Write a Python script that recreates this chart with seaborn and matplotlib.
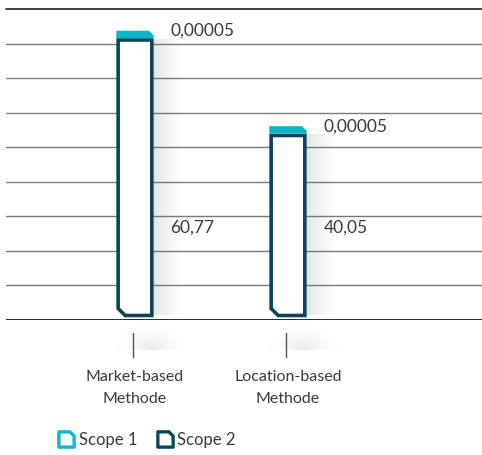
import numpy as np
import pandas as pd
import matplotlib
matplotlib.use("Agg")
import matplotlib.pyplot as plt
import matplotlib.transforms as mtransforms
from matplotlib.patches import Polygon
from matplotlib.lines import Line2D
from matplotlib.path import Path
import seaborn as sns

# ---- data -------------------------------------------------------------
categories = ["Market-based\nMethode", "Location-based\nMethode"]
scope2 = [60.77, 40.05]
scope1 = [0.00005, 0.00005]
scope2_labels = ["60,77", "40,05"]
scope1_labels = ["0,00005", "0,00005"]
grid_step = 7.5
y_max = 67.5

CYAN = "#0bb6ca"
DARK = "#0b4557"
TEXT = "#3a3a3a"

sns.set_theme(style="white")
plt.rcParams["font.family"] = ["Lato", "DejaVu Sans"]

W, H = 482, 455
fig = plt.figure(figsize=(W / 100, H / 100), dpi=100)
ax = fig.add_axes([6 / W, (H - 320) / H, 476 / W, 311 / H])

df = pd.DataFrame({"Methode": categories, "Scope 2": scope2})
sns.barplot(data=df, x="Methode", y="Scope 2", ax=ax, width=0.22,
            color="white", saturation=1, errorbar=None)

ax.set_xlim(-0.843, 2.268)
ax.set_ylim(0, y_max)
for s in ax.spines.values():
    s.set_visible(False)
ax.set_yticks([])
ax.set_xlabel("")
ax.set_ylabel("")

# unit conversions (pixels -> data)
px_x = 153.0        # pixels per category step
px_y = 311.0 / y_max  # pixels per value unit

# horizontal rules
levels = np.arange(0, y_max + 0.01, grid_step)
for lv in levels:
    if lv == 0:
        ax.axhline(lv, color="#2b2b2b", lw=1.4, zorder=1)
    elif np.isclose(lv, y_max):
        ax.axhline(lv, color="#1e1e1e", lw=1.2, zorder=1, clip_on=False)
    else:
        ax.axhline(lv, color="#7a7a7a", lw=1.0, zorder=1)

lw_px = 3.6
lw_pt = lw_px * 72 / 100
cx = 7 / px_x           # chamfer size in x
cy = 7 / px_y           # chamfer size in y
gap = 4.5 / px_y        # bar floats slightly above the baseline
cap_off = (lw_px / 2) / px_y
min_cap = 7.5 / px_y    # smallest drawable height for the Scope 1 cap

bars = list(ax.patches)
for bar, s1, lab2, lab1 in zip(bars, scope1, scope2_labels, scope1_labels):
    x0 = bar.get_x()
    w = bar.get_width()
    h = bar.get_height()
    x1 = x0 + w
    bar.set_visible(False)

    # soft shadow to the right of the bar
    n = 64
    grad = np.zeros((2, n, 4))
    grad[..., :3] = 0.45
    grad[..., 3] = np.linspace(0.28, 0.0, n) ** 1.3
    ax.imshow(grad, extent=[x1, x1 + 32 / px_x, gap, h], aspect="auto",
              interpolation="bilinear", zorder=2)

    # faint haze below the baseline under each bar
    m = 48
    yy, xx = np.mgrid[0:m, 0:m]
    r = np.hypot((xx - m / 2) / (m / 2), (yy) / m)
    haze = np.zeros((m, m, 4))
    haze[..., :3] = 0.5
    haze[..., 3] = np.clip(1 - r, 0, 1) ** 2 * 0.18
    ax.imshow(haze, extent=[x0 - 10 / px_x, x1 + 40 / px_x,
                            0, -30 / px_y], aspect="auto",
              interpolation="bilinear", zorder=0, clip_on=False)

    # Scope 2: outlined bar with cut lower-left corner
    verts = [(x0, gap + cy), (x0 + cx, gap), (x1, gap), (x1, h), (x0, h)]
    ax.add_patch(Polygon(verts, closed=True, facecolor="white",
                         edgecolor=DARK, lw=lw_pt, joinstyle="miter",
                         zorder=3))

    # Scope 1: cap stacked on top, cut upper-right corner
    ox0 = x0 - (lw_px / 2) / px_x
    ox1 = x1 + (lw_px / 2) / px_x
    yb = h + cap_off
    yt = yb + max(s1, min_cap)
    ccx = 4.5 / px_x
    ccy = 4.5 / px_y
    cap = [(ox0, yb), (ox1, yb), (ox1, yt - ccy), (ox1 - ccx, yt), (ox0, yt)]
    ax.add_patch(Polygon(cap, closed=True, facecolor=CYAN, edgecolor="none",
                         zorder=4))

    # value labels
    tx = ox1 + 17 / px_x
    ax.text(tx, yt, lab1, ha="left", va="center", fontsize=12.5, color=TEXT,
            zorder=5)
    ax.text(tx, 20.0, lab2, ha="left", va="center", fontsize=12.5, color=TEXT,
            zorder=5)

ax.set_ylim(0, y_max)

# category ticks hanging below the baseline
trans = mtransforms.blended_transform_factory(ax.transData, ax.transAxes)
for i in range(len(categories)):
    ax.add_line(Line2D([i - 2 / px_x, i - 2 / px_x],
                       [-13 / 311, -37 / 311], transform=trans,
                       color="#555555", lw=1.0, clip_on=False))

ax.set_xticks(range(len(categories)))
ax.set_xticklabels(categories, fontsize=11.5, color=TEXT)
ax.tick_params(axis="x", length=0, pad=36)
for t in ax.get_xticklabels():
    t.set_linespacing(1.75)

# legend with chamfered square markers
icon = Path([(-1, -1), (1, -1), (1, 0.45), (0.45, 1), (-1, 1), (-1, -1)],
            [Path.MOVETO, Path.LINETO, Path.LINETO, Path.LINETO,
             Path.LINETO, Path.CLOSEPOLY])
handles = [
    Line2D([], [], marker=icon, linestyle="none", markersize=11,
           markerfacecolor="none", markeredgecolor=CYAN, markeredgewidth=2.4),
    Line2D([], [], marker=icon, linestyle="none", markersize=11,
           markerfacecolor="none", markeredgecolor=DARK, markeredgewidth=2.4),
]
fig.legend(handles, ["Scope 1", "Scope 2"], loc="center left",
           bbox_to_anchor=(0.122, 0.033), ncol=2, frameon=False,
           handlelength=0.9, handletextpad=0.3, columnspacing=1.2,
           fontsize=12, labelcolor=TEXT, borderaxespad=0, borderpad=0)

fig.savefig("out.png", dpi=100, facecolor="white")
